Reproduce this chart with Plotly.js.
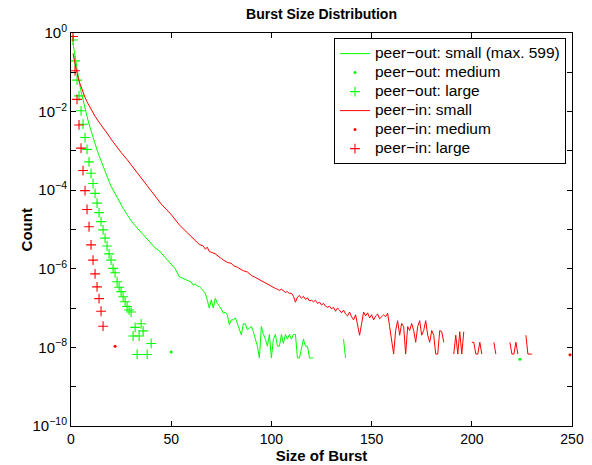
<!DOCTYPE html>
<html>
<head>
<meta charset="utf-8">
<script src="https://cdn.plot.ly/plotly-3.0.1.min.js"></script>
<style>html,body{margin:0;padding:0;background:#fff;}#chart{width:592px;height:465px;}</style>
</head>
<body>
<div id="chart"></div>
<script>
// ---- data (y values stored as log10 of Count) ----
const xTickVals = [0, 50, 100, 150, 200, 250];
const yMajorExps = [-10, -8, -6, -4, -2, 0];
const yMinorExps = [-9, -7, -5, -3, -1];
const yTickLabels = ['10<sup>−10</sup>', '10<sup>−8</sup>', '10<sup>−6</sup>', '10<sup>−4</sup>', '10<sup>−2</sup>', '10<sup>0</sup>'];

const seriesNames = ['peer−out: small (max. 599)', 'peer−out: medium', 'peer−out: large',
                     'peer−in: small', 'peer−in: medium', 'peer−in: large'];

// peer-out: small (green line)
const outSmallX = [1,2,3,4,5,6,7,8,9,10,11,12,13,14,15,16,17,18,19,20,22,24,26,28,30,33,36,39,42,44,46,48,50,52,
  54,55,56,57,58,59,60,61,62,63,64,65,66,67,68,69,70,71,72,73,74,75,76,77,78,79,80,81,82,83,84,85,86,87,88,89,90,
  91,92,93,94,95,96,97,98,99,100,101,102,103,104,105,106,107,108,109,110,111,112,113,114,115,116,117,118,119,120,121,
  122,135,136,137];
const outSmallLog = [-0.26,-0.62,-0.94,-1.22,-1.48,-1.72,-1.92,-2.12,-2.32,-2.50,-2.67,-2.83,-2.98,-3.12,-3.26,-3.40,-3.53,-3.66,-3.78,-3.90,-4.10,-4.28,-4.46,-4.62,-4.78,-4.96,-5.13,-5.30,-5.47,-5.54,-5.66,-5.76,-5.88,-6.00,
  -6.20,-6.22,-6.24,-6.26,-6.28,-6.30,-6.34,-6.42,-6.38,-6.44,-6.45,-6.50,-6.55,-6.62,-6.80,-7.00,-6.79,-7.00,-6.75,-6.88,-6.95,-7.02,-7.13,-7.10,-7.17,-7.43,-7.30,-7.30,-7.25,-7.40,-7.50,-7.68,-7.40,-7.40,-7.55,-7.50,-7.47,
  -7.60,-7.81,-7.97,-8.27,-7.47,-7.67,-7.79,-7.97,-7.67,-8.27,-7.79,-7.67,-7.97,-7.97,-7.67,-7.90,-7.67,-7.79,-7.67,-7.79,-7.67,-7.67,-8.27,-8.27,-8.00,-7.79,-7.97,-7.97,-8.27,-8.27,-8.27,
  null,null,-7.79,-8.27];

// peer-out: medium (green dots)
const outMediumX = [50, 224];
const outMediumLog = [-8.12, -8.30];

// peer-out: large (green +)
const outLargeX = [1,2,3,4,5,6,7,8,9,10,11,12,13,14,15,16,17,18,19,20,21,22,23,24,25,26,27,28,29,30,31,32,33,34,35,36,38,40];
const outLargeLog = [-0.18,-0.71,-1.20,-1.60,-1.98,-2.32,-2.66,-2.96,-3.28,-3.57,-3.83,-4.08,-4.33,-4.57,-4.80,-5.01,-5.22,-5.42,-5.62,-5.78,-5.99,-6.10,-6.33,-6.47,-6.58,-6.71,-6.84,-6.96,-7.05,-7.10,-7.71,-7.49,-8.18,-7.71,-7.40,-7.58,-8.18,-7.90];

// peer-in: small (red line)
const inSmallX = [1,2,3,4,5,6,7,8,10,12,14,16,18,20,22,25,28,31,34,37,41,45,50,54,58,62,64,66,67,68,69,70,72,75,78,80,81,83,86,88,90,92,94,96,98,
  100,101,102,103,104,105,106,107,108,109,110,111,112,113,114,115,116,117,118,119,120,121,122,123,124,125,126,127,128,129,
  130,131,132,133,134,135,136,137,138,139,140,141,142,143,144,145,146,147,148,149,150,151,152,153,154,155,156,157,158,159,
  160,161,162,163,164,165,166,167,168,169,170,171,172,173,174,175,176,177,178,179,180,181,182,183,184,185,186,187,
  191,192,193,194,195,196,197,200,201,202,203,204,205,206,211,212,213,219,220,221,222,223,224,227,228,229,230];
const inSmallLog = [-0.52,-0.80,-1.02,-1.22,-1.38,-1.52,-1.64,-1.75,-1.95,-2.12,-2.27,-2.40,-2.55,-2.70,-2.84,-3.04,-3.22,-3.42,-3.62,-3.82,-4.10,-4.35,-4.62,-4.88,-5.08,-5.28,-5.38,-5.42,-5.50,-5.45,-5.56,-5.58,-5.62,-5.74,-5.84,-5.86,-5.92,-5.96,-6.05,-6.08,-6.17,-6.22,-6.28,-6.33,-6.40,
  -6.45,-6.48,-6.50,-6.52,-6.55,-6.52,-6.56,-6.60,-6.58,-6.63,-6.62,-6.70,-6.85,-6.72,-6.68,-6.75,-6.70,-6.78,-6.74,-6.82,-6.80,-6.84,-6.80,-6.88,-6.85,-6.92,-6.88,-6.95,-6.98,-6.95,
  -7.02,-6.98,-7.08,-7.00,-7.05,-7.12,-7.05,-7.15,-7.20,-7.10,-7.22,-7.30,-7.17,-7.45,-7.69,-7.40,-7.10,-7.20,-7.12,-7.25,-7.17,-7.30,-7.20,-7.15,-7.27,-7.22,-7.17,-7.22,-7.13,-7.47,
  -7.87,-8.17,-7.57,-7.32,-7.69,-7.39,-7.47,-8.17,-7.47,-7.57,-7.39,-7.57,-7.87,-7.47,-7.32,-7.69,-7.57,-7.32,-7.69,-7.87,-7.57,-7.69,-8.17,-8.17,-7.57,-7.60,-7.87,null,
  -8.17,-7.69,-8.17,-7.60,-8.17,-7.60,null,-7.87,-7.87,-8.17,-8.17,-7.87,-8.17,null,-7.87,-8.17,null,-7.87,-8.17,-8.17,-7.87,-8.17,null,-7.69,-8.17,-8.17,-8.17];

// peer-in: medium (red dots)
const inMediumX = [22, 249];
const inMediumLog = [-7.97, -8.19];

// peer-in: large (red +)
const inLargeX = [1,2,3,4,5,6,7,8,9,10,11,12,13,14,15,16];
const inLargeLog = [-0.09,-0.96,-1.69,-2.34,-2.93,-3.50,-4.01,-4.49,-4.93,-5.39,-5.78,-6.13,-6.46,-6.76,-7.08,-7.46];

// ---- build ----
const toCount = arr => arr.map(v => v === null ? null : Math.pow(10, v));
const GREEN = '#00ff00', RED = '#ff0000';
const FONT = '"Liberation Sans", Arial, Helvetica, sans-serif';
const legendLabel = s => '<span style="font-size:15.5px">' + s + '</span>';

function lineTrace(name, x, ylog, color) {
  return {x: x, y: toCount(ylog), name: legendLabel(name), type: 'scatter', mode: 'lines',
          connectgaps: false, line: {color: color, width: 1}, hoverinfo: 'skip'};
}
function dotTrace(name, x, ylog, color) {
  return {x: x, y: toCount(ylog), name: legendLabel(name), type: 'scatter', mode: 'markers',
          marker: {color: color, size: 3, symbol: 'circle'}, hoverinfo: 'skip'};
}
function plusTrace(name, x, ylog, color) {
  return {x: x, y: toCount(ylog), name: legendLabel(name), type: 'scatter', mode: 'markers',
          marker: {color: color, size: 7, symbol: 'cross-thin-open', line: {color: color, width: 1.1}}, hoverinfo: 'skip'};
}

const data = [
  lineTrace(seriesNames[0], outSmallX, outSmallLog, GREEN),
  dotTrace(seriesNames[1], outMediumX, outMediumLog, GREEN),
  plusTrace(seriesNames[2], outLargeX, outLargeLog, GREEN),
  lineTrace(seriesNames[3], inSmallX, inSmallLog, RED),
  dotTrace(seriesNames[4], inMediumX, inMediumLog, RED),
  plusTrace(seriesNames[5], inLargeX, inLargeLog, RED)
];

const layout = {
  width: 592, height: 465,
  margin: {l: 71, r: 20, t: 33, b: 39, pad: 0},
  paper_bgcolor: '#fff', plot_bgcolor: '#fff',
  font: {family: FONT, color: '#000', size: 14},
  showlegend: true,
  title: {text: '<b>Burst Size Distribution</b>', font: {size: 14, family: FONT, color: '#000'},
          x: 0.5, xref: 'paper', y: 0.969, yref: 'container', yanchor: 'middle'},
  xaxis: {
    range: [0, 250], tickvals: xTickVals, ticktext: xTickVals.map(String),
    ticks: 'inside', ticklen: 5, tickcolor: '#000', mirror: 'ticks',
    showline: true, linecolor: '#000', linewidth: 1,
    showgrid: false, zeroline: false,
    tickfont: {size: 14, family: FONT},
    title: {text: '<b>Size of Burst</b>', font: {size: 15, family: FONT}, standoff: 2}
  },
  yaxis: {
    type: 'log', range: [-10, 0],
    tickvals: yMajorExps.map(e => Math.pow(10, e)), ticktext: yTickLabels,
    ticks: 'inside', ticklen: 5, tickcolor: '#000', mirror: 'ticks',
    minor: {tickvals: yMinorExps.map(e => Math.pow(10, e)), ticks: 'inside', ticklen: 5, tickcolor: '#000', showgrid: false},
    showline: true, linecolor: '#000', linewidth: 1,
    showgrid: false, zeroline: false,
    tickfont: {size: 15, family: FONT}
  },
  annotations: [{
    text: '<b>Count</b>', xref: 'paper', yref: 'paper', x: -0.088, y: 0.5,
    xanchor: 'center', yanchor: 'middle', textangle: -90, showarrow: false,
    font: {size: 15, family: FONT, color: '#000'}
  }],
  legend: {
    x: 0.988, y: 0.987, xanchor: 'right', yanchor: 'top',
    bgcolor: '#fff', bordercolor: '#000', borderwidth: 1,
    font: {size: 11, family: FONT}, itemwidth: 30, tracegroupgap: 0
  }
};

Plotly.newPlot('chart', data, layout, {staticPlot: true, displayModeBar: false});
</script>
</body>
</html>
